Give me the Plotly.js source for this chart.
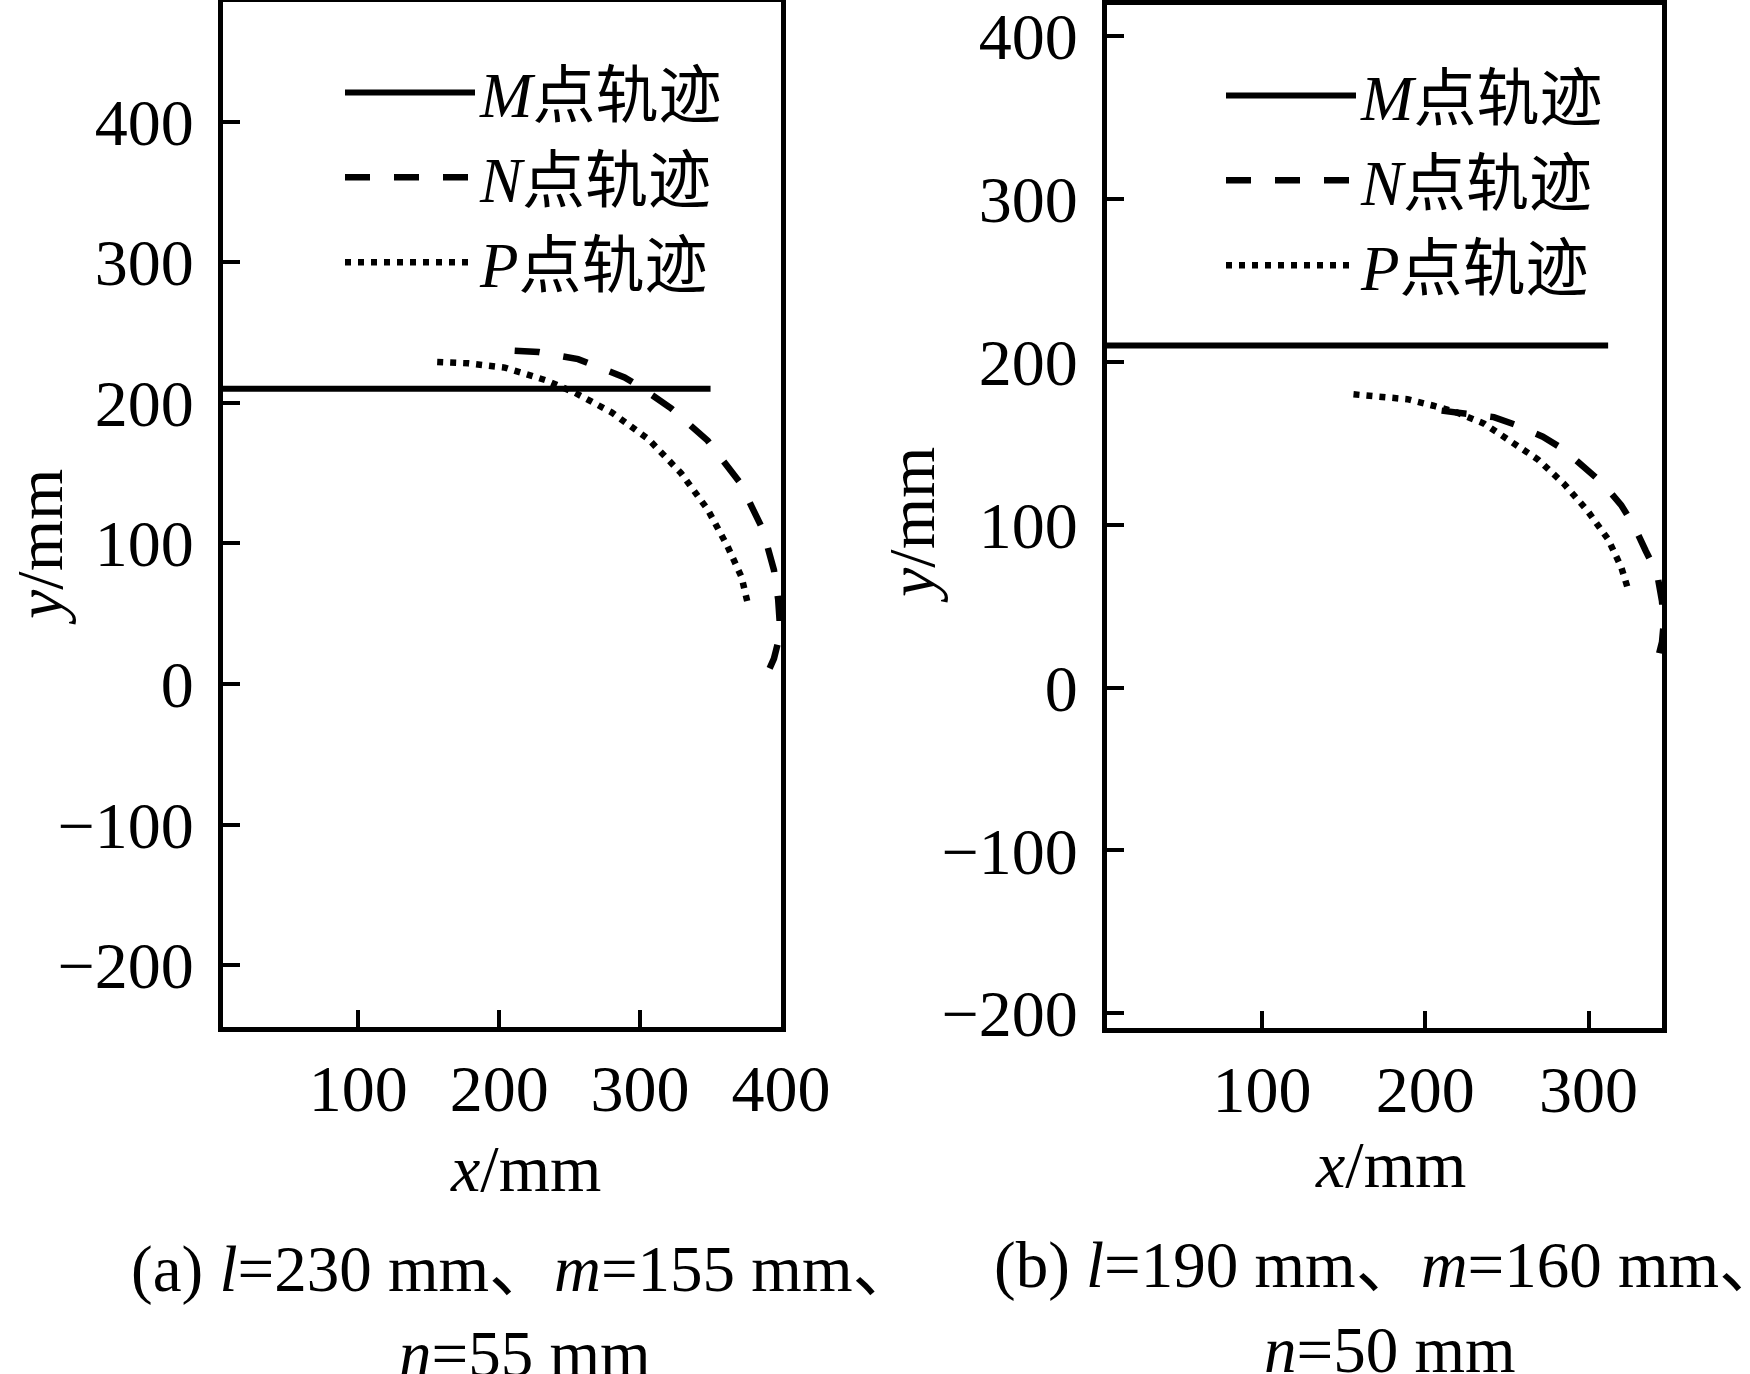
<!DOCTYPE html>
<html>
<head>
<meta charset="utf-8">
<script src="https://cdn.plot.ly/plotly-3.0.1.min.js"></script>
<style>html,body{margin:0;padding:0;background:#fff;}</style>
</head>
<body>
<div id="chart" style="width:1750px;height:1374px;"></div>
<script>
// ---- data: panel (a) l=230, m=155, n=55 ----
const seriesNames = ['<i>M</i>点轨迹', '<i>N</i>点轨迹', '<i>P</i>点轨迹'];
const aMx = [4, 350];
const aMy = [210, 210];
const aNx = [211, 228, 256, 289, 299, 322, 348, 371, 387, 395, 398, 399, 398, 395, 391, 386];
const aNy = [237, 236, 231, 218, 212, 196, 173, 143, 110, 81, 60, 45, 30, 18, 9, 3];
const aPx = [156, 178, 204, 233, 254, 280, 306, 329, 348, 362, 372, 376];
const aPy = [229, 228, 225, 216, 207, 193, 174, 150, 124, 98, 76, 59];
// ---- data: panel (b) l=190, m=160, n=50 ----
const bMx = [5, 312];
const bMy = [210, 210];
const bNx = [210, 224, 242, 256, 272, 285, 297, 309, 320, 328, 335, 342, 345, 346, 345, 343, 338];
const bNy = [170, 168, 166, 161, 154, 146, 136, 125, 112, 99, 84, 70, 53, 39, 28, 20, 8];
const bPx = [156, 170, 189, 205, 219, 236, 254, 269, 285, 299, 312, 320, 324];
const bPy = [180, 179, 177, 173, 169, 162, 150, 140, 125, 109, 91, 74, 61];
// ---- text ----
const xTitle = '<i>x</i>/mm';
const yTitle = '<i>y</i>/mm';
const captionA = ['(a) <i>l</i>=230 mm、<i>m</i>=155 mm、', '<i>n</i>=55 mm'];
const captionB = ['(b) <i>l</i>=190 mm、<i>m</i>=160 mm、', '<i>n</i>=50 mm'];

const FONT = '"Liberation Serif", "Times New Roman", "Noto Sans CJK SC", serif';
const W = 1750, H = 1374;
const px = v => v / W;
const py = v => 1 - v / H;

const styles = [
  {color: '#000', width: 6, dash: 'solid'},
  {color: '#000', width: 6.5, dash: '25px,24px'},
  {color: '#000', width: 6.5, dash: '6px,7px'}
];

function tr(x, y, i, xa, ya, lg) {
  return {x: x, y: y, type: 'scatter', mode: 'lines', name: seriesNames[i],
          line: Object.assign({}, styles[i]), xaxis: xa, yaxis: ya, legend: lg,
          hoverinfo: 'skip'};
}

const data = [
  tr(aMx, aMy, 0, 'x', 'y', 'legend'),
  tr(aNx, aNy, 1, 'x', 'y', 'legend'),
  tr(aPx, aPy, 2, 'x', 'y', 'legend'),
  tr(bMx, bMy, 0, 'x2', 'y2', 'legend2'),
  tr(bNx, bNy, 1, 'x2', 'y2', 'legend2'),
  tr(bPx, bPy, 2, 'x2', 'y2', 'legend2')
];

function axis(domain, range, anchor, extra) {
  return Object.assign({
    domain: domain, range: range, anchor: anchor,
    showline: true, mirror: true, linewidth: 5, linecolor: '#000',
    ticks: 'inside', ticklen: 17, tickwidth: 4, tickcolor: '#000',
    dtick: 100, tick0: 0, showgrid: false, zeroline: false,
    tickfont: {family: FONT, size: 66, color: '#000'},
    fixedrange: true
  }, extra || {});
}

const legendBase = {
  bgcolor: 'rgba(0,0,0,0)', borderwidth: 0,
  font: {family: FONT, size: 63, color: '#000'},
  itemwidth: 130, tracegroupgap: 0,
  xanchor: 'left', yanchor: 'top'
};

function ann(text, x, y, extra) {
  return Object.assign({text: text, x: x, y: y, xref: 'paper', yref: 'paper',
    showarrow: false, xanchor: 'center', yanchor: 'middle',
    font: {family: FONT, size: 64, color: '#000'}}, extra || {});
}

const layout = {
  width: W, height: H,
  margin: {l: 0, r: 0, t: 0, b: 0, pad: 0},
  paper_bgcolor: '#fff', plot_bgcolor: '#fff',
  font: {family: FONT, color: '#000'},
  showlegend: true,
  xaxis: axis([px(223), px(781)], [4, 400], 'y', {ticklabelstandoff: 0}),
  yaxis: axis([py(1027), py(2)], [-244, 485], 'x', {ticklabelstandoff: 11}),
  xaxis2: axis([px(1107), px(1662)], [5, 345], 'y2', {ticklabelstandoff: 0}),
  yaxis2: axis([py(1028), py(5)], [-209, 419], 'x2', {ticklabelstandoff: 11}),
  legend: Object.assign({x: px(340), y: py(45)}, legendBase),
  legend2: Object.assign({x: px(1221), y: py(48)}, legendBase),
  annotations: [
    ann(yTitle, px(39), py(547), {textangle: -90, font: {family: FONT, size: 66, color: '#000'}}),
    ann(yTitle, px(911), py(525), {textangle: -90, font: {family: FONT, size: 66, color: '#000'}}),
    ann(xTitle, px(525), py(1168), {font: {family: FONT, size: 66, color: '#000'}}),
    ann(xTitle, px(1390), py(1164), {font: {family: FONT, size: 66, color: '#000'}}),
    ann(captionA[0], px(524), py(1269), {font: {family: FONT, size: 65, color: '#000'}}),
    ann(captionA[1], px(525), py(1354), {font: {family: FONT, size: 65, color: '#000'}}),
    ann(captionB[0], px(1389), py(1265), {font: {family: FONT, size: 65, color: '#000'}}),
    ann(captionB[1], px(1390), py(1350), {font: {family: FONT, size: 65, color: '#000'}})
  ]
};

Plotly.newPlot('chart', data, layout, {staticPlot: true, displayModeBar: false});
</script>
</body>
</html>
